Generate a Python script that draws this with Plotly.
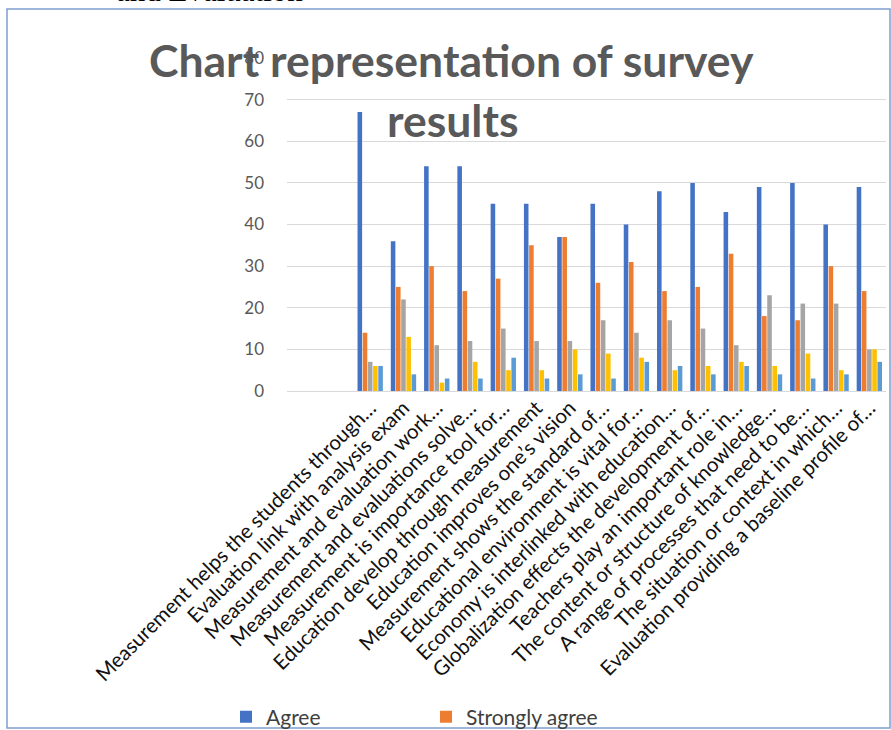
import plotly.graph_objects as go

# ---- data ----
categories = [
    "Measurement helps the students through…",
    "Evaluation link with analysis exam",
    "Measurement and evaluation work…",
    "Measurement and evaluations solve…",
    "Measurement is importance tool for…",
    "Education develop through measurement",
    "Education improves one’s vision",
    "Measurement shows the standard of…",
    "Educational environment is vital for…",
    "Economy is interlinked with education…",
    "Globalization effects the development of…",
    "Teachers play an important role in…",
    "The content or structure of knowledge…",
    "A range of processes that need to be…",
    "The situation or context in which…",
    "Evaluation providing a baseline profile of…",
]
agree           = [67, 36, 54, 54, 45, 45, 37, 45, 40, 48, 50, 43, 49, 50, 40, 49]
strongly_agree  = [14, 25, 30, 24, 27, 35, 37, 26, 31, 24, 25, 33, 18, 17, 30, 24]
neutral         = [7, 22, 11, 12, 15, 12, 12, 17, 14, 17, 15, 11, 23, 21, 21, 10]
disagree        = [6, 13, 2, 7, 5, 5, 10, 9, 8, 5, 6, 7, 6, 9, 5, 10]
strongly_disagree = [6, 4, 3, 3, 8, 3, 4, 3, 7, 6, 4, 6, 4, 3, 4, 7]
series_names = ["Agree", "Strongly agree", "Neutral", "Disagree", "Strongly disagree"]
series_colors = ["#4472C4", "#ED7D31", "#A5A5A5", "#FFC000", "#5B9BD5"]
blank_slots = 2  # empty leading category slots in the original worksheet
y_ticks = [0, 10, 20, 30, 40, 50, 60, 70, 80]

# ---- layout geometry ----
W, H = 891, 730
L, R, T, B = 287, 5, 58, 339
PW, PH = W - L - R, H - T - B

def px(x):
    return (x - L) / PW

def py(y):
    return 1 - (y - T) / PH

positions = [blank_slots + i for i in range(len(categories))]
series = [agree, strongly_agree, neutral, disagree, strongly_disagree]

fig = go.Figure()
for i, (name, vals, col) in enumerate(zip(series_names, series, series_colors)):
    fig.add_trace(go.Bar(
        x=positions, y=vals, name=name,
        marker=dict(color=col, line=dict(width=0)),
        showlegend=(i < 2),
    ))

fig.update_layout(
    width=W, height=H,
    margin=dict(l=L, r=R, t=T, b=B, autoexpand=False),
    paper_bgcolor="white", plot_bgcolor="white",
    barmode="group", bargap=0.22, bargroupgap=0.12,
    font=dict(family="Lato, 'Open Sans', sans-serif", color="#595959"),
    xaxis=dict(
        range=[-0.5, blank_slots + len(categories) - 0.5],
        tickmode="array", tickvals=positions, ticktext=categories,
        tickangle=-45, tickfont=dict(size=20.5, color="#111111"),
        showgrid=False, zeroline=False, showline=False, ticks="",
    ),
    yaxis=dict(
        range=[0, 80], tickmode="array", tickvals=y_ticks,
        tickfont=dict(size=17, color="#595959"),
        showgrid=True, gridcolor="#D9D9D9", gridwidth=1.3,
        zeroline=True, zerolinecolor="#D9D9D9", zerolinewidth=1.3,
        showline=False, ticks="", ticklabelstandoff=22,
    ),
    legend=dict(
        orientation="h", x=px(226), y=py(717), xanchor="left", yanchor="middle",
        xref="paper", yref="paper",
        font=dict(size=21, color="#404040"),
        entrywidth=155, entrywidthmode="pixels",
        bgcolor="rgba(0,0,0,0)",
    ),
    showlegend=True,
)

fig.add_annotation(text="<b>Chart representation of survey</b>", x=px(451), y=py(60),
                   xref="paper", yref="paper", showarrow=False,
                   font=dict(size=44.5, color="#595959", family="Lato"),
                   xanchor="center", yanchor="middle")
fig.add_annotation(text="<b>results</b>", x=px(453), y=py(119),
                   xref="paper", yref="paper", showarrow=False,
                   font=dict(size=44.5, color="#595959", family="Lato"),
                   xanchor="center", yanchor="middle")
fig.add_annotation(text="and Evaluation", x=px(114), y=py(10),
                   xref="paper", yref="paper", showarrow=False,
                   font=dict(size=31, color="#000000", family="Liberation Serif"),
                   xanchor="left", yanchor="bottom")

# chart frame border
fig.add_shape(type="rect", xref="paper", yref="paper",
              x0=px(7), x1=px(890), y0=py(728), y1=py(9),
              line=dict(color="#7F9FCF", width=1.5), fillcolor="rgba(0,0,0,0)",
              layer="below")

fig.write_html("out.html")
